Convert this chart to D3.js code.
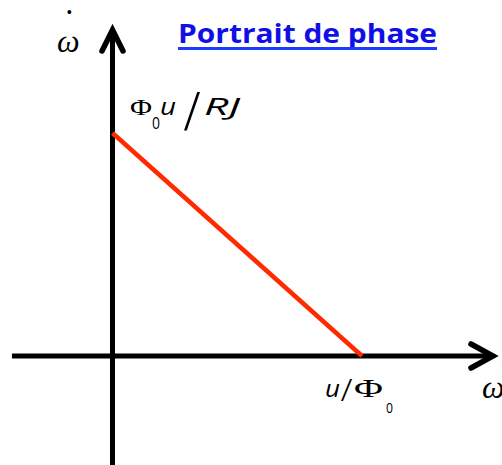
<!DOCTYPE html>
<html>
<head>
<meta charset="utf-8">
<script src="https://cdn.jsdelivr.net/npm/d3@7"></script>
<style>
  html, body { margin: 0; padding: 0; background: #fff; }
  svg { display: block; }
</style>
</head>
<body>
<svg id="chart" width="502" height="465"></svg>
<script>
// ---- data (in units of the intercepts) ----
const xDomain = [-0.403, 1.525];        // horizontal axis extent (ω)
const yDomain = [-0.49, 1.462];         // vertical axis extent (ω̇)
const lineX = [0, 1];                   // ω : 0 → u/Φ0
const lineY = [1, 0];                   // ω̇ : Φ0u/RJ → 0
const titleText = "Portrait de phase";

const svg = d3.select("#chart");
const x = d3.scaleLinear().domain([0, 1]).range([112.5, 362]);
const y = d3.scaleLinear().domain([0, 1]).range([356, 133]);

// axes
const axisW = 5;
svg.append("line")
  .attr("x1", x(xDomain[0])).attr("x2", x(xDomain[1]))
  .attr("y1", y(0)).attr("y2", y(0))
  .attr("stroke", "#000").attr("stroke-width", axisW);
svg.append("line")
  .attr("x1", x(0)).attr("x2", x(0))
  .attr("y1", y(yDomain[0])).attr("y2", y(yDomain[1]) + 2)
  .attr("stroke", "#000").attr("stroke-width", axisW);

// arrowheads (chevrons)
const hx = x(xDomain[1]), hy = y(0);
svg.append("path")
  .attr("d", `M${hx - 22},${hy - 12} L${hx},${hy} L${hx - 22},${hy + 12}`)
  .attr("fill", "none").attr("stroke", "#000").attr("stroke-width", 5.5)
  .attr("stroke-linecap", "round").attr("stroke-linejoin", "miter");
const vx = x(0), vy = y(yDomain[1]);
svg.append("path")
  .attr("d", `M${vx - 10.5},${vy + 21} L${vx},${vy} L${vx + 10.5},${vy + 21}`)
  .attr("fill", "none").attr("stroke", "#000").attr("stroke-width", 5.5)
  .attr("stroke-linecap", "round").attr("stroke-linejoin", "miter");

// red phase line
const pts = lineX.map((d, i) => [d, lineY[i]]);
svg.append("path")
  .datum(pts)
  .attr("d", d3.line().x(d => x(d[0])).y(d => y(d[1])))
  .attr("fill", "none").attr("stroke", "#ff2a00").attr("stroke-width", 4.5);

// title
svg.append("text")
  .attr("x", 178).attr("y", 43)
  .attr("font-family", "'Open Sans', 'DejaVu Sans', sans-serif")
  .attr("font-weight", "bold").attr("font-size", 27)
  .attr("fill", "#1010e6")
  .attr("textLength", 259).attr("lengthAdjust", "spacingAndGlyphs")
  .text(titleText);
svg.append("rect")
  .attr("x", 178).attr("y", 47).attr("width", 259).attr("height", 3)
  .attr("fill", "#1a3cff");

const serif = "'Liberation Serif', 'DejaVu Serif', serif";
const sans = "'Open Sans', 'DejaVu Sans', sans-serif";

// y-axis label ω̇
svg.append("text").attr("x", 57).attr("y", 52)
  .attr("font-family", serif).attr("font-style", "italic").attr("font-size", 32)
  .text("ω");
svg.append("text").attr("x", 66.5).attr("y", 18)
  .attr("font-family", serif).attr("font-size", 16)
  .text("•");

// x-axis label ω
svg.append("text").attr("x", 482).attr("y", 398)
  .attr("font-family", serif).attr("font-style", "italic").attr("font-size", 32)
  .text("ω");

// intercept labels: one text element each, pieces as tspans
function label(parts) {
  const t = svg.append("text");
  parts.forEach(p => {
    const s = t.append("tspan").attr("x", p.x).attr("y", p.y)
      .attr("font-family", p.f).attr("font-size", p.s)
      .attr("font-style", p.i ? "italic" : "normal")
      .text(p.t);
    if (p.w) s.attr("textLength", p.w).attr("lengthAdjust", "spacingAndGlyphs");
  });
}
label([
  {t: "Φ", x: 130, y: 115, f: serif, s: 24, w: 22},
  {t: "0", x: 152, y: 129, f: sans, s: 16, w: 8},
  {t: "u", x: 160, y: 115, f: sans, s: 24, i: true, w: 16},
  {t: "/", x: 184, y: 130, f: serif, s: 56, w: 16},
  {t: "RJ", x: 204, y: 115, f: sans, s: 24, i: true, w: 36}
]);
label([
  {t: "u", x: 325, y: 397, f: sans, s: 24, i: true, w: 15},
  {t: "/", x: 341, y: 401, f: serif, s: 34, w: 11},
  {t: "Φ", x: 354, y: 397, f: serif, s: 25, w: 29},
  {t: "0", x: 386, y: 413, f: sans, s: 15, w: 7}
]);
</script>
</body>
</html>
